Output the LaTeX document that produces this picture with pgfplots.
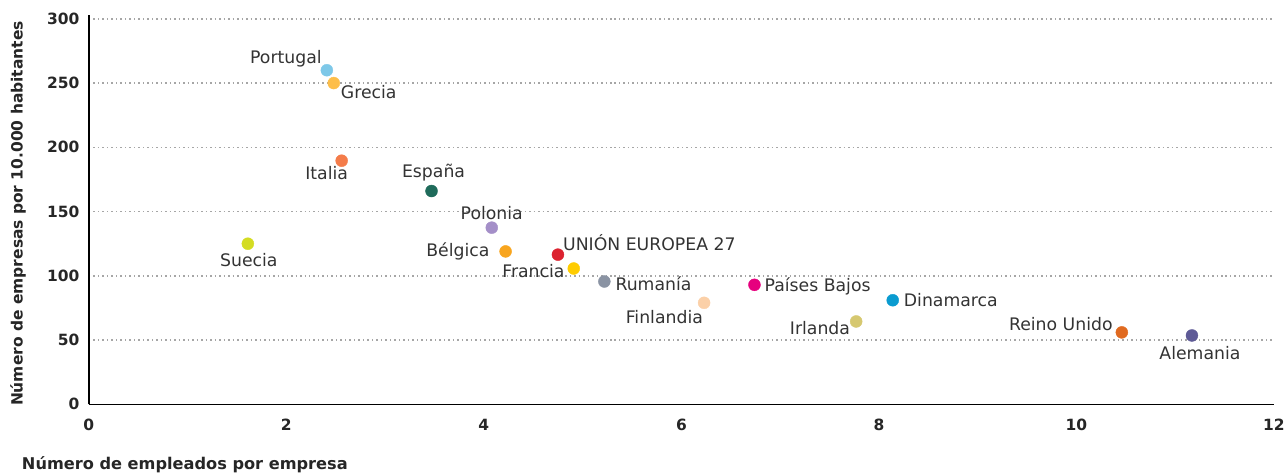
\documentclass[border=0pt]{standalone}
\usepackage{pgfplots}
\pgfplotsset{compat=1.18}
\usepackage{fontspec}
\setmainfont{DejaVu Sans}
\definecolor{cPor}{HTML}{7EC8E8}
\definecolor{cGre}{HTML}{FDBE4A}
\definecolor{cIta}{HTML}{F47C4A}
\definecolor{cEsp}{HTML}{1F6B5B}
\definecolor{cPol}{HTML}{A48FC8}
\definecolor{cSue}{HTML}{D4DC22}
\definecolor{cBel}{HTML}{F8A51E}
\definecolor{cUE}{HTML}{DC2330}
\definecolor{cFra}{HTML}{FFCC00}
\definecolor{cRum}{HTML}{8A93A3}
\definecolor{cFin}{HTML}{FBD0A8}
\definecolor{cPB}{HTML}{E6007E}
\definecolor{cDin}{HTML}{0A9BD0}
\definecolor{cIrl}{HTML}{D6C870}
\definecolor{cRU}{HTML}{E06A20}
\definecolor{cAle}{HTML}{5E5A96}
\definecolor{lbl}{HTML}{333333}
\begin{document}
\begin{tikzpicture}
\begin{axis}[
  scale only axis,
  width=1187pt, height=390pt,
  xmin=0, xmax=12, ymin=0, ymax=303,
  xtick={0,2,...,12}, ytick={0,50,...,300},
  axis lines*=left,
  axis line style={black, line width=1.5pt},
  major tick length=0pt,
  ymajorgrids,
  major grid style={gray!70, line width=1.5pt, dash pattern=on 1.5pt off 3pt},
  /pgf/number format/assume math mode=true,
  tick label style={font=\fontsize{15.5}{18}\selectfont\bfseries, color=black!85},
  yticklabel style={xshift=-6pt},
  xticklabel style={yshift=-11pt},
  xlabel={Número de empleados por empresa},
  ylabel={Número de empresas por 10.000 habitantes},
  xlabel style={font=\fontsize{16.2}{18}\selectfont\bfseries, color=black!85, at={(axis description cs:0.081,-0.154)}, anchor=center},
  ylabel style={font=\fontsize{15.5}{18}\selectfont\bfseries, color=black!85, at={(axis description cs:-0.0598,0.49)}, anchor=center, rotate=0},
  clip=false,
  every axis plot/.append style={only marks, mark=*, mark size=6pt},
]
\tikzset{lab/.style={font=\fontsize{17.3}{20}\selectfont, text=lbl, inner sep=0pt}}
\addplot[cPor, mark options={draw=cPor, fill=cPor}] coordinates {(2.41,260)} node[lab, anchor=east, xshift=-5pt, yshift=12pt] {Portugal};
\addplot[cGre, mark options={draw=cGre, fill=cGre}] coordinates {(2.48,250)} node[lab, anchor=west, xshift=7pt, yshift=-9pt] {Grecia};
\addplot[cIta, mark options={draw=cIta, fill=cIta}] coordinates {(2.56,189.6)} node[lab, anchor=center, xshift=-15pt, yshift=-12pt] {Italia};
\addplot[cEsp, mark options={draw=cEsp, fill=cEsp}] coordinates {(3.47,166)} node[lab, anchor=center, xshift=2pt, yshift=18pt] {España};
\addplot[cPol, mark options={draw=cPol, fill=cPol}] coordinates {(4.08,137.5)} node[lab, anchor=center, xshift=0pt, yshift=15pt] {Polonia};
\addplot[cSue, mark options={draw=cSue, fill=cSue}] coordinates {(1.61,125)} node[lab, anchor=center, xshift=1pt, yshift=-16pt] {Suecia};
\addplot[cBel, mark options={draw=cBel, fill=cBel}] coordinates {(4.22,119)} node[lab, anchor=east, xshift=-16pt, yshift=0pt] {Bélgica};
\addplot[cUE, mark options={draw=cUE, fill=cUE}] coordinates {(4.75,116.5)} node[lab, anchor=west, xshift=5pt, yshift=12pt] {UNIÓN EUROPEA 27};
\addplot[cFra, mark options={draw=cFra, fill=cFra}] coordinates {(4.91,105.7)} node[lab, anchor=east, xshift=-9pt, yshift=-3pt] {Francia};
\addplot[cRum, mark options={draw=cRum, fill=cRum}] coordinates {(5.22,95.6)} node[lab, anchor=west, xshift=11pt, yshift=-2pt] {Rumanía};
\addplot[cFin, mark options={draw=cFin, fill=cFin}] coordinates {(6.23,79)} node[lab, anchor=east, xshift=-1pt, yshift=-14pt] {Finlandia};
\addplot[cPB, mark options={draw=cPB, fill=cPB}] coordinates {(6.74,93)} node[lab, anchor=west, xshift=10pt, yshift=-2pt] {Países Bajos};
\addplot[cDin, mark options={draw=cDin, fill=cDin}] coordinates {(8.14,81)} node[lab, anchor=west, xshift=11pt, yshift=0pt] {Dinamarca};
\addplot[cIrl, mark options={draw=cIrl, fill=cIrl}] coordinates {(7.77,64.5)} node[lab, anchor=east, xshift=-6pt, yshift=-7pt] {Irlanda};
\addplot[cRU, mark options={draw=cRU, fill=cRU}] coordinates {(10.46,56)} node[lab, anchor=east, xshift=-9pt, yshift=8pt] {Reino Unido};
\addplot[cAle, mark options={draw=cAle, fill=cAle}] coordinates {(11.17,53.6)} node[lab, anchor=center, xshift=8pt, yshift=-18pt] {Alemania};
\end{axis}
\useasboundingbox (-89pt,-71pt) rectangle (1199pt,405pt);
\end{tikzpicture}
\end{document}
